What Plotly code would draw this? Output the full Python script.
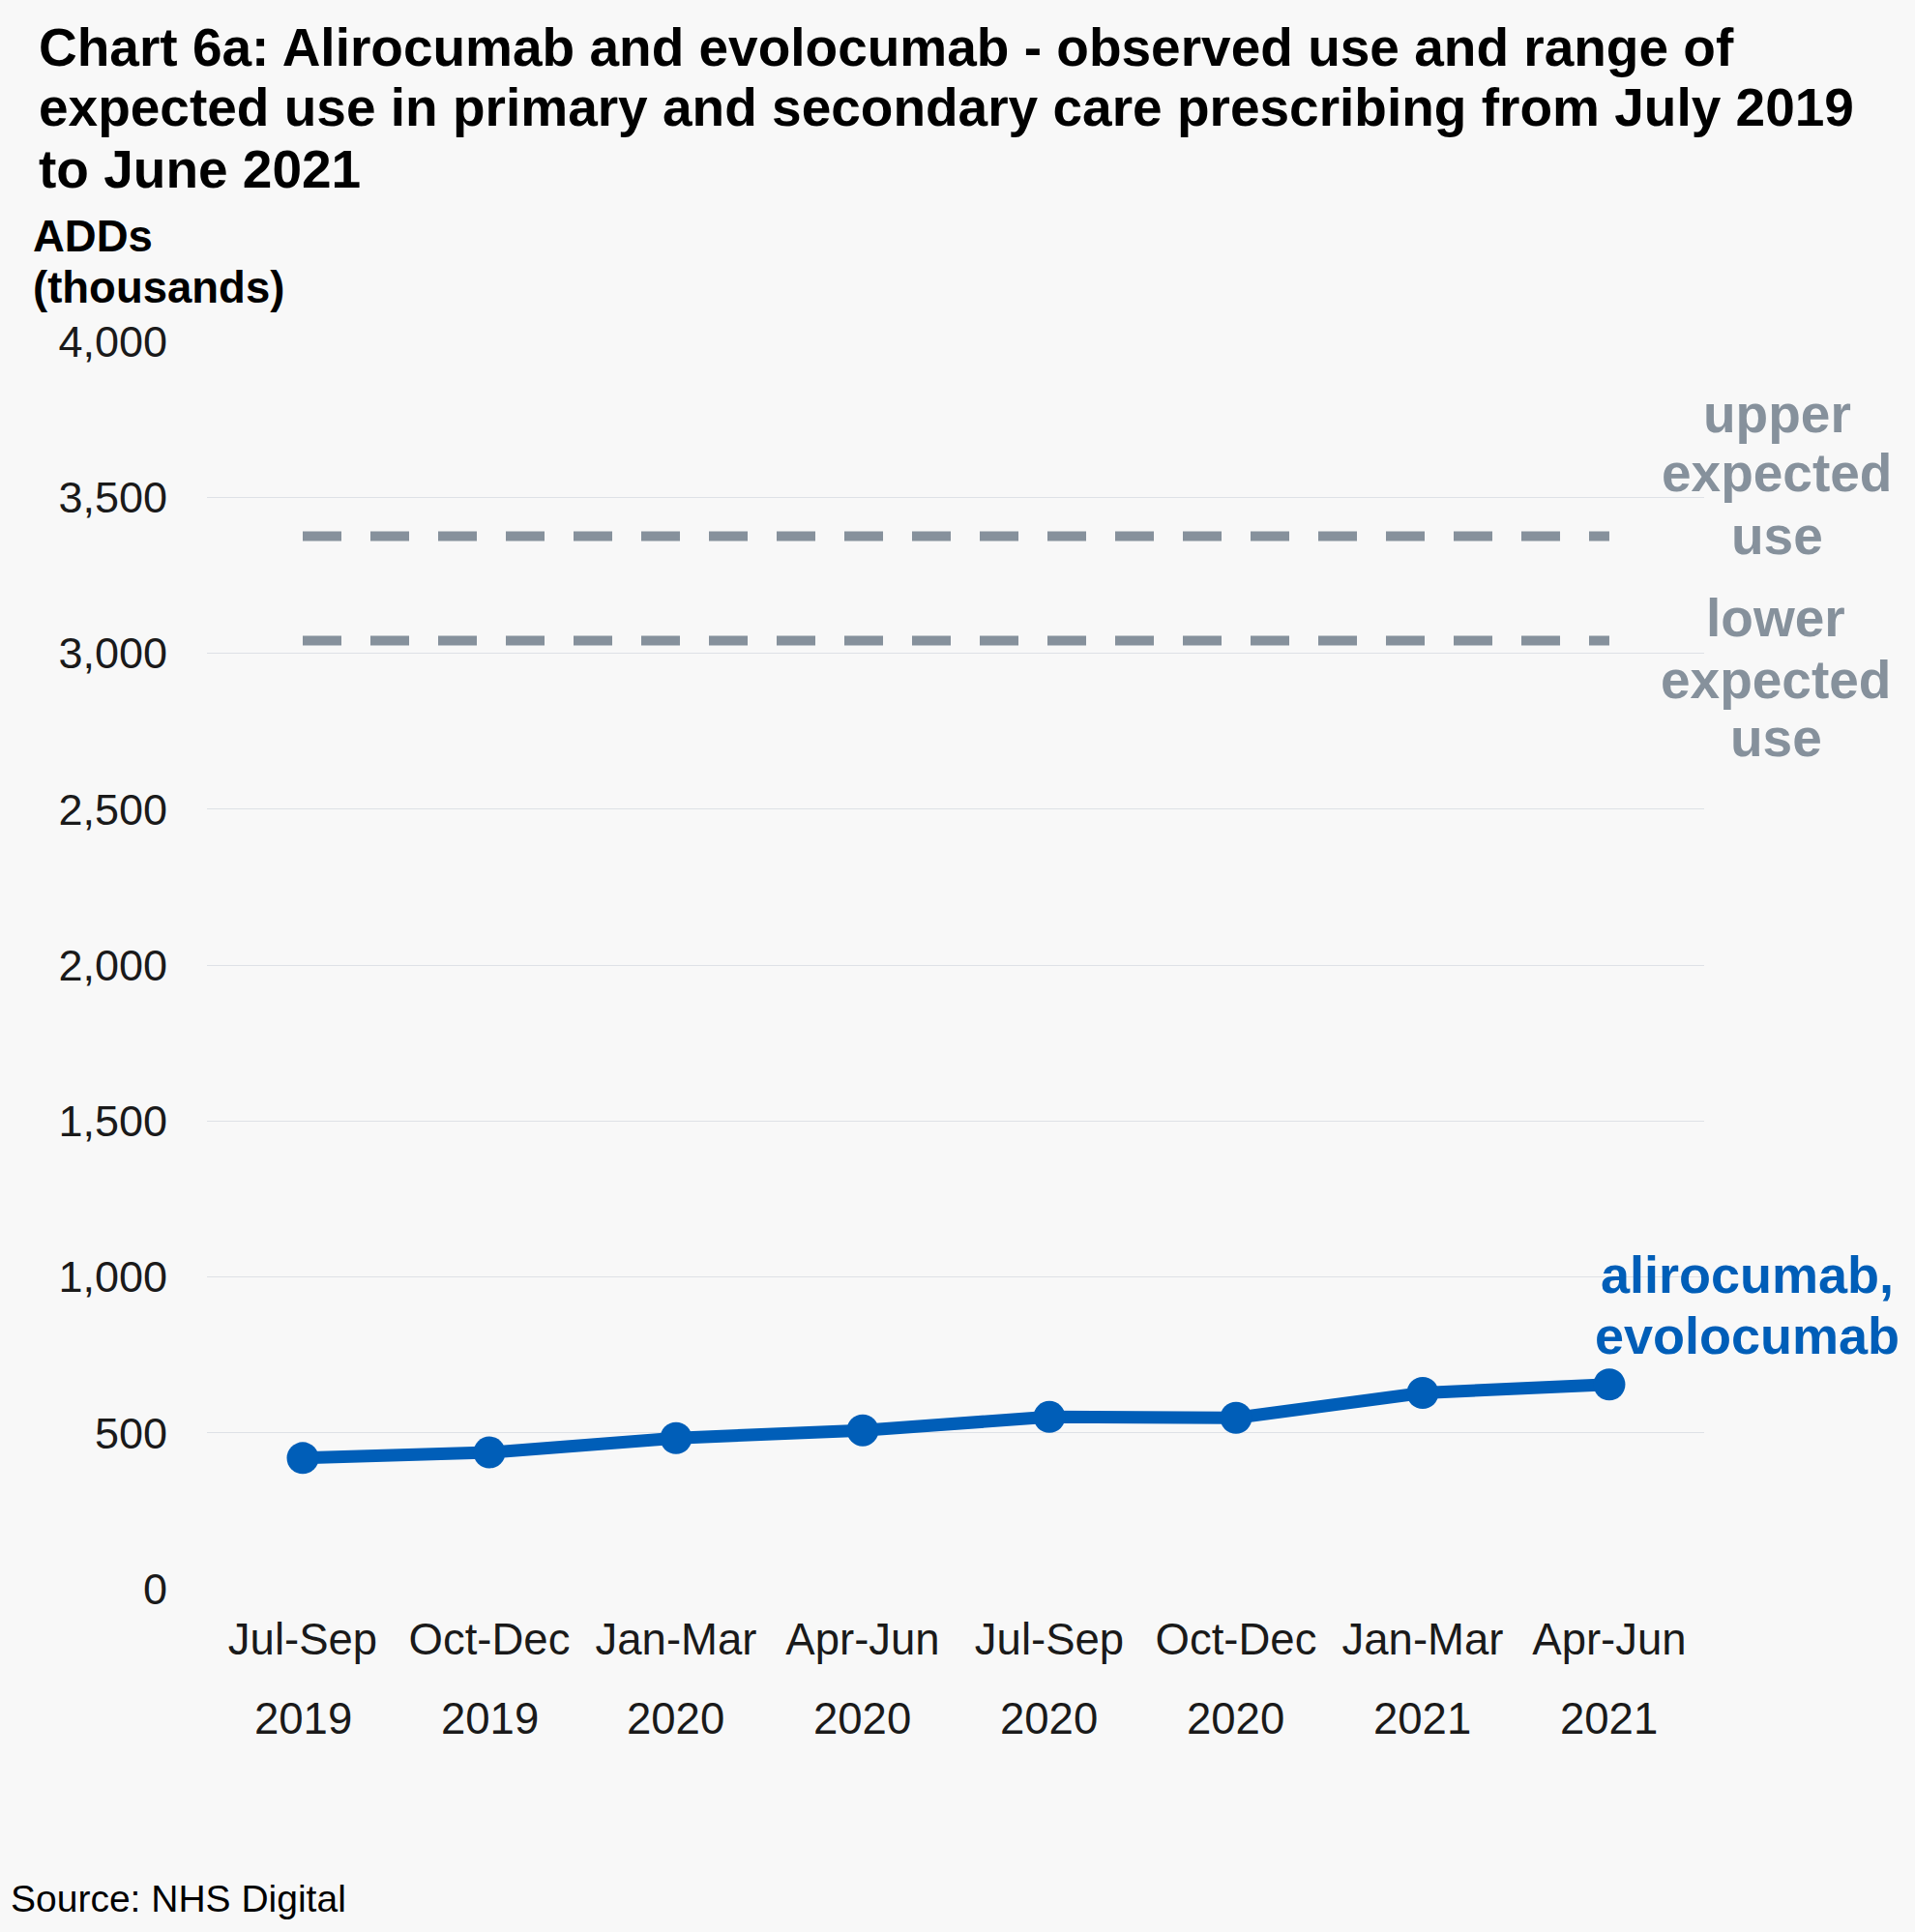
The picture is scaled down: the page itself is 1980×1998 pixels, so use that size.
import plotly.graph_objects as go

# ---- data ----
periods = ["Jul-Sep", "Oct-Dec", "Jan-Mar", "Apr-Jun", "Jul-Sep", "Oct-Dec", "Jan-Mar", "Apr-Jun"]
years = ["2019", "2019", "2020", "2020", "2020", "2020", "2021", "2021"]
categories = [f"{p} {y}" for p, y in zip(periods, years)]
observed = [419, 437, 483, 508, 551, 548, 628, 655]
upper_expected = [3375] * 8
lower_expected = [3040] * 8
y_ticks = [0, 500, 1000, 1500, 2000, 2500, 3000, 3500, 4000]

title_lines = [
    "Chart 6a: Alirocumab and evolocumab - observed use and range of",
    "expected use in primary and secondary care prescribing from July 2019",
    "to June 2021",
]
ytitle_lines = ["ADDs", "(thousands)"]
upper_label = ["upper", "expected", "use"]
lower_label = ["lower", "expected", "use"]
series_label = ["alirocumab,", "evolocumab"]

# ---- style ----
BLUE = "#005EB8"
GREY = "#86919C"
BG = "#F8F8F8"
FONT = "Liberation Sans, Arial, sans-serif"
W, H = 1980, 1998
PL, PR, PT, PB = 214, 1762, 353, 1643


def pxx(x):
    return (x - PL) / (PR - PL)


def pyy(y):
    return (PB - y) / (PB - PT)


def mid(baseline, size):
    return baseline - 0.3465 * size


fig = go.Figure()
fig.add_trace(go.Scatter(x=categories, y=upper_expected, mode="lines",
                         line=dict(color=GREY, width=10, dash="40px,30px"),
                         hoverinfo="skip", showlegend=False))
fig.add_trace(go.Scatter(x=categories, y=lower_expected, mode="lines",
                         line=dict(color=GREY, width=10, dash="40px,30px"),
                         hoverinfo="skip", showlegend=False))
fig.add_trace(go.Scatter(x=categories, y=observed, mode="lines+markers",
                         line=dict(color=BLUE, width=13),
                         marker=dict(color=BLUE, size=33),
                         showlegend=False))

ann = []
# title
for t, b in zip(title_lines, [68, 130, 194]):
    ann.append(dict(text=f"<b>{t}</b>", x=pxx(38), y=pyy(mid(b, 55)), xref="paper", yref="paper",
                    xanchor="left", yanchor="middle", showarrow=False,
                    font=dict(size=55, color="#000000", family=FONT)))
# y axis title
for t, b in zip(ytitle_lines, [260, 313]):
    ann.append(dict(text=f"<b>{t}</b>", x=pxx(32), y=pyy(mid(b, 45.5)), xref="paper", yref="paper",
                    xanchor="left", yanchor="middle", showarrow=False,
                    font=dict(size=45.5, color="#000000", family=FONT)))
# years under ticks
for c, yr in zip(categories, years):
    ann.append(dict(text=yr, x=c, y=pyy(mid(1793, 45.5)), xref="x", yref="paper",
                    xanchor="center", yanchor="middle", showarrow=False,
                    font=dict(size=45.5, color="#1A1A1A", family=FONT)))
# expected labels
for t, b in zip(upper_label, [447, 508, 573]):
    ann.append(dict(text=f"<b>{t}</b>", x=pxx(1837), y=pyy(mid(b, 55)), xref="paper", yref="paper",
                    xanchor="center", yanchor="middle", showarrow=False,
                    font=dict(size=55, color=GREY, family=FONT)))
for t, b in zip(lower_label, [658, 722, 782]):
    ann.append(dict(text=f"<b>{t}</b>", x=pxx(1836), y=pyy(mid(b, 55)), xref="paper", yref="paper",
                    xanchor="center", yanchor="middle", showarrow=False,
                    font=dict(size=55, color=GREY, family=FONT)))
for t, b in zip(series_label, [1337, 1400]):
    ann.append(dict(text=f"<b>{t}</b>", x=pxx(1806), y=pyy(mid(b, 54)), xref="paper", yref="paper",
                    xanchor="center", yanchor="middle", showarrow=False,
                    font=dict(size=54, color=BLUE, family=FONT)))
# source
ann.append(dict(text="Source: NHS Digital", x=pxx(9), y=pyy(mid(1977, 39)), xref="paper", yref="paper",
                xanchor="left", yanchor="middle", showarrow=False,
                font=dict(size=39, color="#000000", family=FONT)))

fig.update_layout(
    width=W, height=H,
    margin=dict(l=PL, r=W - PR, t=PT, b=H - PB, pad=0),
    paper_bgcolor=BG, plot_bgcolor=BG,
    font=dict(family=FONT, color="#1A1A1A"),
    annotations=ann,
    xaxis=dict(type="category", categoryorder="array", categoryarray=categories,
               tickvals=categories, ticktext=periods, range=[-0.513, 7.508],
               showgrid=False, zeroline=False, showline=False, ticks="",
               tickfont=dict(size=45.5, color="#1A1A1A", family=FONT),
               ticklabelstandoff=21),
    yaxis=dict(range=[0, 4000], tickvals=y_ticks, tickformat=",",
               showgrid=True, gridcolor="#DEE1E6", gridwidth=1,
               zeroline=False, showline=False, ticks="",
               tickfont=dict(size=45, color="#1A1A1A", family=FONT),
               ticklabelstandoff=40),
)

fig.write_html("out.html")
